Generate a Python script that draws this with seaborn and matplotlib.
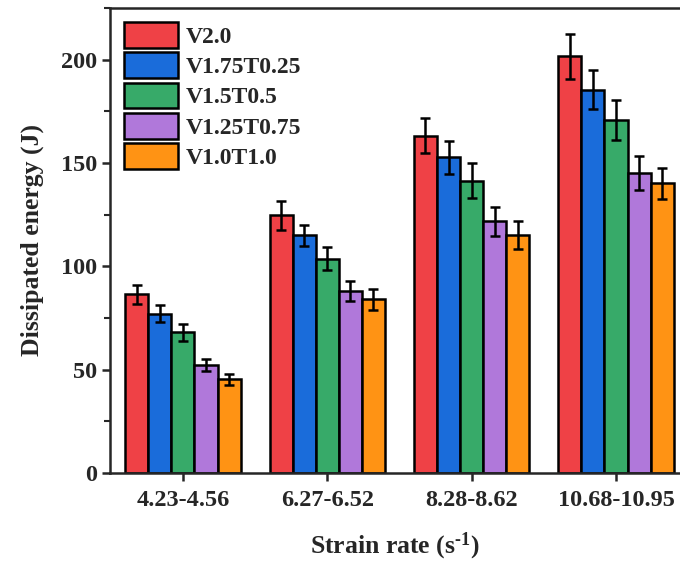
import matplotlib
matplotlib.use("Agg")
import matplotlib.pyplot as plt
import seaborn as sns
import pandas as pd
import numpy as np
from matplotlib.ticker import MultipleLocator

categories = ["4.23-4.56", "6.27-6.52", "8.28-8.62", "10.68-10.95"]
series = ["V2.0", "V1.75T0.25", "V1.5T0.5", "V1.25T0.75", "V1.0T1.0"]
values = {
    "V2.0":       [86.5, 124.6, 163.3, 201.6],
    "V1.75T0.25": [77.1, 115.1, 152.8, 185.5],
    "V1.5T0.5":   [68.0, 103.7, 141.5, 170.7],
    "V1.25T0.75": [52.3, 88.1, 121.7, 145.3],
    "V1.0T1.0":   [45.4, 84.0, 115.1, 140.1],
}
errors = {
    "V2.0":       [4.6, 6.9, 8.7, 11.0],
    "V1.75T0.25": [4.0, 5.1, 8.0, 9.5],
    "V1.5T0.5":   [4.0, 5.6, 8.5, 9.7],
    "V1.25T0.75": [2.9, 4.7, 6.8, 8.2],
    "V1.0T1.0":   [2.7, 4.9, 6.6, 7.6],
}
colors = ["#EF4146", "#1A6CDA", "#37AA69", "#B078DA", "#FF9314"]

rows = []
for s in series:
    for c, v, e in zip(categories, values[s], errors[s]):
        rows.append({"rate": c, "series": s, "energy": v, "err": e})
df = pd.DataFrame(rows)

sns.set_style("ticks")
plt.rcParams["font.family"] = ["Liberation Serif", "DejaVu Serif"]
plt.rcParams["font.weight"] = "bold"
plt.rcParams["mathtext.fontset"] = "custom"
plt.rcParams["mathtext.rm"] = "Liberation Serif:bold"
plt.rcParams["mathtext.bf"] = "Liberation Serif:bold"
plt.rcParams["mathtext.it"] = "Liberation Serif:bold"

fig = plt.figure(figsize=(6.8, 5.62), dpi=100)
ax = fig.add_axes([110 / 680, 1 - 473 / 562, 1 - 110 / 680, (473 - 8) / 562])

sns.barplot(data=df, x="rate", y="energy", hue="series", order=categories,
            hue_order=series, palette=colors, errorbar=None, width=0.8,
            edgecolor="black", linewidth=1.8, ax=ax, saturation=1)

for cont, s in zip(ax.containers, series):
    xs = [p.get_x() + p.get_width() / 2 for p in cont.patches]
    ys = [p.get_height() for p in cont.patches]
    ax.errorbar(xs, ys, yerr=errors[s], fmt="none", ecolor="black",
                elinewidth=1.8, capsize=3.8, capthick=1.8, zorder=5)

ax.set_xlim(-0.505, 3.443)
ax.set_ylim(0, 225)
ax.yaxis.set_major_locator(MultipleLocator(50))
ax.yaxis.set_minor_locator(MultipleLocator(25))
ax.tick_params(axis="both", which="major", direction="out", length=5.5, width=1.8,
               labelsize=17.5, pad=4)
ax.tick_params(axis="x", which="major", pad=7)
ax.tick_params(axis="y", which="minor", direction="out", length=4, width=1.5)
for lab in ax.get_xticklabels() + ax.get_yticklabels():
    lab.set_fontweight("bold")

for sp in ["left", "bottom", "top"]:
    ax.spines[sp].set_linewidth(1.8)
    ax.spines[sp].set_visible(True)
ax.spines["right"].set_visible(False)

ax.set_xlabel(r"Strain rate (s$^{\text{-1}}$)", fontsize=18.5, fontweight="bold", labelpad=14)
ax.set_ylabel("Dissipated energy (J)", fontsize=18.5, fontweight="bold", labelpad=12)

leg = ax.legend(loc="upper left", frameon=False,
                handlelength=2.3, handleheight=1.3, labelspacing=0.19,
                handletextpad=0.3, borderaxespad=0.2,
                prop={"weight": "bold", "size": 17})
for h in leg.legend_handles:
    h.set_edgecolor("black")
    h.set_linewidth(1.8)

fig.savefig("out.png", dpi=100)
